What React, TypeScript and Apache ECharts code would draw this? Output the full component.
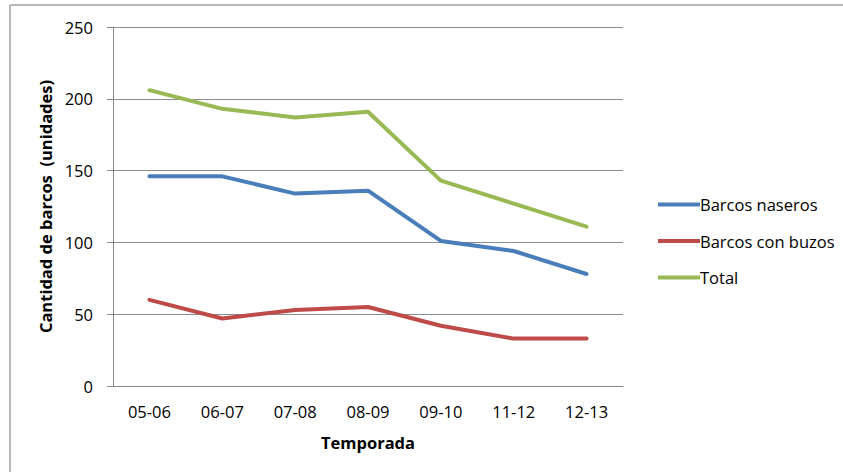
import React, { useEffect, useRef } from "react";
import * as echarts from "echarts";

const categories = ["05-06", "06-07", "07-08", "08-09", "09-10", "11-12", "12-13"];
const barcosNaseros = [146, 146, 134, 136, 101, 94, 78];
const barcosConBuzos = [60, 47, 53, 55, 42, 33, 33];
const total = [206, 193, 187, 191, 143, 127, 111];
const seriesNames = ["Barcos naseros", "Barcos con buzos", "Total"];
const colors = ["#4A7EBB", "#BE4B48", "#98B954"];

const FONT = "'Open Sans', sans-serif";

export default function App() {
  const ref = useRef<HTMLDivElement>(null);
  useEffect(() => {
    if (!ref.current) return;
    const chart = echarts.init(ref.current, undefined, { renderer: "svg" });
    const mk = (name: string, data: number[], color: string) => ({
      name,
      type: "line",
      data,
      symbol: "none",
      showSymbol: false,
      color,
      lineStyle: { width: 4, color, cap: "round", join: "round" },
    });
    chart.setOption({
      animation: false,
      textStyle: { fontFamily: FONT },
      grid: { left: 113, right: 220, top: 27, bottom: 86, containLabel: false },
      graphic: [
        { type: "line", shape: { x1: 10, y1: 5, x2: 843, y2: 5 }, style: { stroke: "#A0A0A0", lineWidth: 1.5 } },
        { type: "line", shape: { x1: 10, y1: 5, x2: 10, y2: 472 }, style: { stroke: "#A0A0A0", lineWidth: 1.5 } },
      ],
      legend: {
        orient: "vertical",
        left: 653,
        top: 191,
        itemWidth: 42,
        itemHeight: 4,
        itemGap: 19.5,
        icon: "rect",
        data: seriesNames,
        textStyle: { fontFamily: FONT, fontSize: 16.5, lineHeight: 17, color: "#000", padding: [0, 0, 0, -5] },
      },
      xAxis: {
        type: "category",
        data: categories,
        boundaryGap: true,
        name: "Temporada",
        nameLocation: "middle",
        nameGap: 48,
        nameTextStyle: { fontFamily: FONT, fontSize: 16.5, fontWeight: "bold", color: "#000" },
        axisLine: { lineStyle: { color: "#868686", width: 1 } },
        axisTick: { show: false },
        axisLabel: { fontFamily: FONT, fontSize: 16.5, color: "#000", margin: 17 },
      },
      yAxis: {
        type: "value",
        min: 0,
        max: 250,
        interval: 50,
        name: "Cantidad de barcos  (unidades)",
        nameLocation: "middle",
        nameGap: 57,
        nameTextStyle: { fontFamily: FONT, fontSize: 16.5, fontWeight: "bold", color: "#000" },
        axisLine: { show: true, lineStyle: { color: "#868686", width: 1 } },
        axisTick: { show: true, length: 6, lineStyle: { color: "#868686" } },
        axisLabel: { fontFamily: FONT, fontSize: 16.5, color: "#000", margin: 20 },
        splitLine: { lineStyle: { color: "#8C8C8C", width: 1 } },
      },
      series: [
        mk(seriesNames[0], barcosNaseros, colors[0]),
        mk(seriesNames[1], barcosConBuzos, colors[1]),
        mk(seriesNames[2], total, colors[2]),
      ],
    });
    return () => chart.dispose();
  }, []);
  return (
    <div
      ref={ref}
      style={{ position: "absolute", left: 0, top: 0, width: 843, height: 472, background: "#fff" }}
    />
  );
}
